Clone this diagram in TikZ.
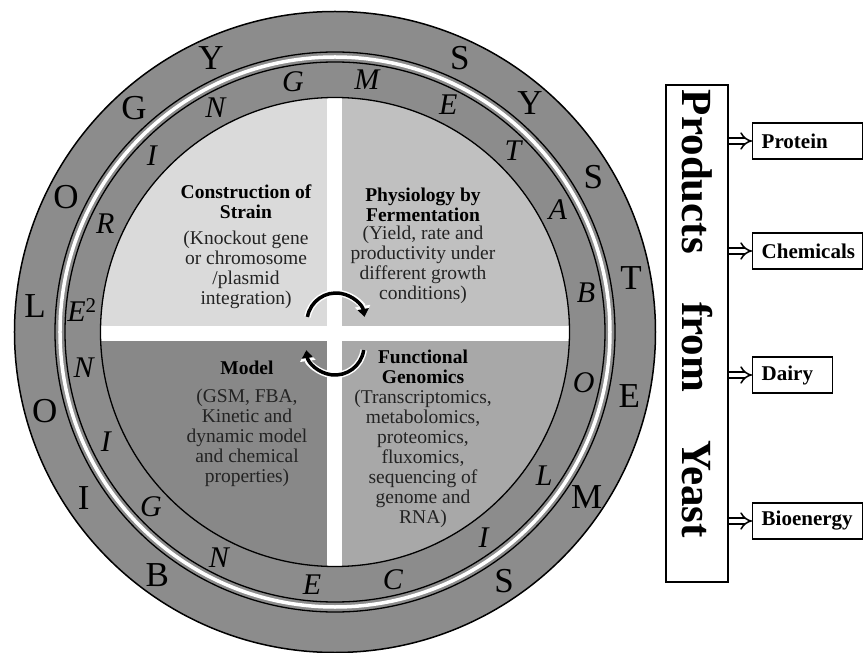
\documentclass[tikz,border=0pt]{standalone}
\usepackage{fontspec}
\setmainfont{Liberation Serif}
\usepackage{tikz}
\usetikzlibrary{arrows.meta,positioning}
\definecolor{ringGray}{RGB}{140,140,140}
\definecolor{qStrain}{RGB}{218,218,218}
\definecolor{qFerm}{RGB}{192,192,192}
\definecolor{qModel}{RGB}{136,136,136}
\definecolor{qGenom}{RGB}{168,168,168}
\definecolor{descGray}{RGB}{35,35,35}

\begin{document}
\begin{tikzpicture}[
    x=1pt, y=1pt,
    outerlet/.style={font=\fontsize{35}{35}\selectfont, inner sep=0pt},
    innerlet/.style={font=\fontsize{30}{30}\selectfont\itshape, inner sep=0pt},
    qtitle/.style={font=\bfseries\fontsize{19.5}{20}\selectfont, align=center},
    qdesc/.style={font=\fontsize{19.5}{20}\selectfont, align=center, descGray},
    cyc/.style={line width=3.5pt, -{Triangle[length=8pt,width=11pt]},
      preaction={draw=white, line width=6.5pt, -{Triangle[length=11pt,width=15pt]}}},
    prodbox/.style={draw, line width=1.4pt, minimum height=36pt, inner xsep=9pt, inner ysep=0pt,
      anchor=west, align=left, text width=#1, font=\bfseries\fontsize{21}{21}\selectfont},
    prodbox/.default=92pt,
    yields/.style={double, double distance=4.5pt, line width=1.5pt, -{Implies}}
]
  \useasboundingbox (-335,-321) rectangle (530,332);

  % rings
  \fill[ringGray] (0,0) circle (320.5);
  \draw[line width=1.5pt] (0,0) circle (320.5);
  \draw[line width=1.3pt] (0,0) circle (280);
  \draw[white, line width=3.5pt] (0,0) circle (275);
  \draw[line width=1.3pt] (0,0) circle (270);

  % quadrants
  \fill[qFerm] (0,0) -- (0:234.5) arc (0:90:234.5) -- cycle;
  \fill[qStrain] (0,0) -- (90:234.5) arc (90:180:234.5) -- cycle;
  \fill[qModel] (0,0) -- (180:234.5) arc (180:270:234.5) -- cycle;
  \fill[qGenom] (0,0) -- (270:234.5) arc (270:360:234.5) -- cycle;
  \fill[white] (-7.5,-234.5) rectangle (7.5,234.5);
  \fill[white] (-234.5,-9.5) rectangle (234.5,5.5);
  \draw[line width=1.3pt] (0,0) circle (234.5);

  % SYSTEMS BIOLOGY
  \foreach \l/\a [count=\i] in {B/233.8, I/213.4, O/195.3, L/175, O/153.3, G/131.9, Y/114.3,
      S/65.5, Y/49.6, S/30.9, T/10.3, E/-12.2, M/-33.3, S/-55.8} {
    \node[outerlet] (out\i) at (\a:301) {\l};
  }
  % METABOLIC ENGINE^2RING
  \foreach \l/\a [count=\i] in {E/264.8, N/242.8, G/223.6, I/205.5, N/188.1,
      {E\textsuperscript{\upshape 2}}/175.1, R/154.8, I/136.1, N/118.1, G/99.5,
      M/82.8, E/63.5, T/45.5, A/28.7, B/8.8, O/-11.6, L/-34.5, I/-54.2, C/-76.8} {
    \node[innerlet] (in\i) at (\a:254) {\l};
  }

  \node[qtitle] (strainT) at (-89,130) {Construction of\\Strain};
  \node[qdesc] (strainD) at (-89,62) {(Knockout gene\\or chromosome\\/plasmid\\integration)};
  \node[qtitle] (fermT) at (88,127) {Physiology by\\Fermentation};
  \node[qdesc] (fermD) at (88,67) {(Yield, rate and\\productivity under\\different growth\\conditions)};
  \node[qtitle] (modelT) at (-88,-36) {Model};
  \node[qdesc] (modelD) at (-88,-105.5) {(GSM, FBA,\\Kinetic and\\dynamic model\\and chemical\\properties)};
  \node[qtitle] (genomT) at (88,-35) {Functional\\Genomics};
  \node[qdesc] (genomD) at (88,-126.5) {(Transcriptomics,\\metabolomics,\\proteomics,\\fluxomics,\\sequencing of\\genome and\\RNA)};

  % cycle arrows
  \draw[cyc] ([shift={(170:29)}]1,10) arc (170:10:29);
  \draw[cyc] ([shift={(-8:29)}]0,-14) arc (-8:-172:29);

  % products
  \node[draw, line width=1.4pt, minimum width=62pt, minimum height=497pt, inner sep=0pt] (yeast) at (362,-1.5) {};
  \node[rotate=-90, anchor=base, inner sep=0pt, font=\bfseries\fontsize{43}{43}\selectfont] (yeastT) at (347,18)
    {\makebox[448pt][s]{Products from Yeast}};

  \node[prodbox] (protein) at (417,191) {Protein};
  \node[prodbox] (chem) at (417,81) {Chemicals};
  \node[prodbox=62pt] (dairy) at (417,-43) {Dairy};
  \node[prodbox] (bioen) at (417,-189) {Bioenergy};

  \foreach \p in {protein,chem,dairy,bioen} {
    \draw[yields] (yeast.east |- \p.west) -- (\p.west);
  }
\end{tikzpicture}
\end{document}
